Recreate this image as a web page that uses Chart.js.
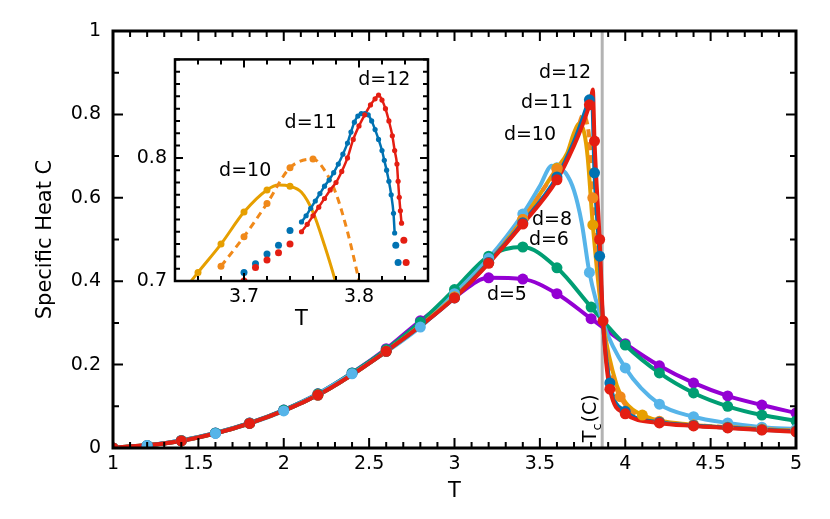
<!DOCTYPE html>
<html>
<head>
<meta charset="utf-8">
<script src="https://cdn.jsdelivr.net/npm/chart.js@4.4.0/dist/chart.umd.min.js"></script>
<style>
  html, body { margin: 0; padding: 0; background: #fff; }
  #wrap { position: relative; width: 830px; height: 519px; }
  #main { position: absolute; left: 0; top: 0; }
  #inset { position: absolute; left: 120px; top: 40px; }
</style>
</head>
<body>
<div id="wrap">
  <canvas id="main" width="830" height="519"></canvas>
  <canvas id="inset" width="320" height="300"></canvas>
</div>
<script>
// ---------- main plot: markers (T, C) per system size ----------
const d5T = [1.0, 1.2, 1.4, 1.6, 1.8, 2.0, 2.2, 2.4, 2.6, 2.8, 3.0, 3.2, 3.4, 3.6, 3.8, 4.0, 4.2, 4.4, 4.6, 4.8, 5.0];
const d5C = [0.000, 0.006, 0.018, 0.036, 0.060, 0.091, 0.130, 0.180, 0.238, 0.305, 0.362, 0.408, 0.405, 0.370, 0.310, 0.250, 0.197, 0.156, 0.125, 0.103, 0.084];

const d6T = [1.0, 1.2, 1.4, 1.6, 1.8, 2.0, 2.2, 2.4, 2.6, 2.8, 3.0, 3.2, 3.4, 3.6, 3.8, 4.0, 4.2, 4.4, 4.6, 4.8, 5.0];
const d6C = [0.000, 0.006, 0.018, 0.036, 0.060, 0.091, 0.130, 0.180, 0.236, 0.302, 0.380, 0.460, 0.482, 0.432, 0.338, 0.247, 0.180, 0.132, 0.100, 0.079, 0.065];

const d8T = [1.2, 1.6, 2.0, 2.4, 2.8, 3.0, 3.2, 3.4, 3.6, 3.79, 4.0, 4.2, 4.4, 4.6, 4.8, 5.0];
const d8C = [0.006, 0.035, 0.089, 0.178, 0.290, 0.370, 0.455, 0.561, 0.672, 0.421, 0.192, 0.105, 0.075, 0.060, 0.050, 0.045];
const d8KnotT = [1.0, 3.5, 3.57, 3.65, 3.7, 3.745, 3.87];
const d8KnotC = [0.000, 0.628, 0.677, 0.660, 0.617, 0.540, 0.300];

const d10T = [1.0, 1.4, 1.8, 2.2, 2.6, 3.0, 3.2, 3.4, 3.6, 3.81, 4.1, 4.4, 4.6, 4.8, 5.0];
const d10C = [0.000, 0.017, 0.059, 0.127, 0.232, 0.362, 0.445, 0.548, 0.671, 0.535, 0.079, 0.055, 0.050, 0.045, 0.041];
const d10KnotT = [3.66, 3.70, 3.73, 3.76, 3.78, 3.87, 3.95, 4.0];
const d10KnotC = [0.707, 0.756, 0.778, 0.755, 0.697, 0.300, 0.150, 0.110];

const d10dT = [1.0, 1.4, 1.8, 2.2, 2.6, 3.0, 3.2, 3.4, 3.6, 3.81, 3.97, 4.2, 4.4, 4.6, 4.8, 5.0];
const d10dC = [0.000, 0.017, 0.059, 0.127, 0.232, 0.362, 0.445, 0.548, 0.668, 0.600, 0.123, 0.064, 0.055, 0.050, 0.045, 0.041];
const d10dKnotT = [3.68, 3.72, 3.755, 3.78, 3.79, 3.87];
const d10dKnotC = [0.712, 0.763, 0.800, 0.771, 0.740, 0.300];

const d11T = [1.0, 1.4, 1.8, 2.2, 2.6, 3.0, 3.2, 3.4, 3.6, 3.79, 3.82, 3.85, 3.91, 4.0, 4.2, 4.4, 4.6, 4.8, 5.0];
const d11C = [0.000, 0.017, 0.059, 0.127, 0.232, 0.360, 0.445, 0.540, 0.650, 0.835, 0.660, 0.460, 0.156, 0.088, 0.062, 0.054, 0.049, 0.044, 0.040];
const d11KnotT = [3.70, 3.75, 3.805, 3.87];
const d11KnotC = [0.735, 0.790, 0.845, 0.300];

const d12T = [1.0, 1.4, 1.8, 2.2, 2.6, 3.0, 3.2, 3.4, 3.6, 3.79, 3.82, 3.85, 3.87, 3.91, 4.0, 4.2, 4.4, 4.6, 4.8, 5.0];
const d12C = [0.000, 0.017, 0.059, 0.127, 0.232, 0.360, 0.443, 0.537, 0.643, 0.823, 0.736, 0.500, 0.305, 0.141, 0.082, 0.060, 0.053, 0.048, 0.043, 0.039];
const d12KnotT = [3.70, 3.75, 3.80, 3.81];
const d12KnotC = [0.725, 0.775, 0.840, 0.860];

const tcValue = 3.865;
const mainXTicks = [1, 1.5, 2, 2.5, 3, 3.5, 4, 4.5, 5];
const mainYTicks = [0, 0.2, 0.4, 0.6, 0.8, 1];
const mainLabelText = ['d=12', 'd=11', 'd=10', 'd=8', 'd=6', 'd=5'];
const mainLabelT = [3.647, 3.542, 3.442, 3.571, 3.553, 3.307];
const mainLabelC = [0.899, 0.827, 0.751, 0.547, 0.499, 0.367];

// ---------- inset: zoom on the peak ----------
const i10T = [3.66, 3.68, 3.70, 3.72, 3.74];
const i10C = [0.707, 0.730, 0.756, 0.774, 0.777];
const i10KnotT = [3.64, 3.73, 3.75, 3.76, 3.77, 3.78, 3.79];
const i10KnotC = [0.683, 0.778, 0.772, 0.756, 0.729, 0.698, 0.660];

const i10dT = [3.68, 3.70, 3.72, 3.74, 3.76];
const i10dC = [0.712, 0.736, 0.763, 0.792, 0.799];
const i10dKnotT = [3.77, 3.78, 3.79, 3.80, 3.81];
const i10dKnotC = [0.790, 0.771, 0.740, 0.700, 0.655];

const i11PtsT = [3.70, 3.71, 3.72, 3.73, 3.74, 3.832, 3.834];
const i11PtsC = [0.707, 0.714, 0.722, 0.729, 0.741, 0.729, 0.715];
const i11LineT = [3.750, 3.754, 3.758, 3.762, 3.766, 3.770, 3.774, 3.778, 3.782, 3.786, 3.790, 3.793, 3.796, 3.799,
                  3.802, 3.805, 3.808, 3.811, 3.814, 3.817, 3.820, 3.822, 3.824, 3.826, 3.828, 3.830, 3.831];
const i11LineC = [0.748, 0.753, 0.759, 0.765, 0.771, 0.777, 0.782, 0.788, 0.795, 0.803, 0.812, 0.821, 0.829, 0.834,
                  0.836, 0.836, 0.835, 0.830, 0.823, 0.815, 0.806, 0.798, 0.790, 0.781, 0.770, 0.755, 0.739];

const i12PtsT = [3.70, 3.71, 3.72, 3.73, 3.74, 3.839, 3.841];
const i12PtsC = [0.700, 0.711, 0.717, 0.723, 0.730, 0.733, 0.715];
const i12LineT = [3.750, 3.755, 3.760, 3.765, 3.770, 3.775, 3.780, 3.785, 3.790, 3.795, 3.800, 3.805, 3.810, 3.814,
                  3.817, 3.820, 3.823, 3.826, 3.829, 3.831, 3.833, 3.834, 3.835, 3.836, 3.837];
const i12LineC = [0.740, 0.746, 0.753, 0.760, 0.767, 0.774, 0.780, 0.789, 0.800, 0.815, 0.826, 0.835, 0.843, 0.848,
                  0.851, 0.847, 0.840, 0.830, 0.818, 0.806, 0.795, 0.781, 0.768, 0.757, 0.747];

const insetXTicks = [3.7, 3.8];
const insetYTicks = [0.7, 0.8];
const insetLabelText = ['d=10', 'd=11', 'd=12'];
const insetLabelT = [3.701, 3.758, 3.822];
const insetLabelC = [0.789, 0.828, 0.863];

// ---------- colours ----------
const PURPLE = '#9400d3', GREEN = '#009e73', SKY = '#56b4e9', GOLD = '#e69f00',
      ORANGE = '#f0891a', BLUE = '#0072b2', RED = '#e41e12';

const FONT = { family: 'DejaVu Sans', size: 19 };
const TITLE_FONT = { family: 'DejaVu Sans', size: 21 };

function pts(T, C) { return T.map((t, i) => ({ x: t, y: C[i] })); }
function curve(T, C, KT, KC) {
    return pts(T.concat(KT || []), C.concat(KC || [])).sort((a, b) => a.x - b.x);
}
function lineSet(data, color, width, dash, order) {
    return { data, borderColor: color, borderWidth: width, borderDash: dash || [],
             pointRadius: 0, cubicInterpolationMode: 'monotone', fill: false, order };
}
function markSet(data, color, r, order) {
    return { data, showLine: false, pointRadius: r, pointBackgroundColor: color,
             pointBorderColor: color, pointBorderWidth: 0, order };
}
const fmt = v => String(+v.toFixed(2));

// frame with inward ticks on all four sides, curve labels, Tc marker
const framePlugin = {
    id: 'frame',
    beforeDatasetsDraw(chart, args, o) {
        if (o.tc == null) return;
        const { ctx, chartArea: a, scales: { x } } = chart;
        const px = x.getPixelForValue(o.tc);
        ctx.save();
        ctx.strokeStyle = '#b3b3b3';
        ctx.lineWidth = 3;
        ctx.beginPath(); ctx.moveTo(px, a.top); ctx.lineTo(px, a.bottom); ctx.stroke();
        ctx.restore();
    },
    afterDraw(chart, args, o) {
        const { ctx, chartArea: a, scales: { x, y } } = chart;
        ctx.save();
        ctx.strokeStyle = '#000';
        ctx.lineWidth = o.tickWidth;
        ctx.beginPath();
        const nx = Math.round((x.max - x.min) / o.xMinor);
        for (let i = 0; i <= nx; i++) {
            const v = x.min + i * o.xMinor;
            const major = o.xMajor.some(m => Math.abs(m - v) < 1e-6);
            const L = major ? o.major : o.minor;
            const px = x.getPixelForValue(v);
            ctx.moveTo(px, a.bottom); ctx.lineTo(px, a.bottom - L);
            ctx.moveTo(px, a.top);    ctx.lineTo(px, a.top + L);
        }
        const ny = Math.round((y.max - y.min) / o.yMinor);
        for (let i = 0; i <= ny; i++) {
            const v = y.min + i * o.yMinor;
            const major = o.yMajor.some(m => Math.abs(m - v) < 1e-6);
            const L = major ? o.major : o.minor;
            const py = y.getPixelForValue(v);
            ctx.moveTo(a.left, py);  ctx.lineTo(a.left + L, py);
            ctx.moveTo(a.right, py); ctx.lineTo(a.right - L, py);
        }
        ctx.stroke();
        ctx.lineWidth = o.frameWidth;
        ctx.strokeRect(a.left, a.top, a.right - a.left, a.bottom - a.top);

        // curve labels
        ctx.fillStyle = '#000';
        ctx.font = `${o.labelSize}px "DejaVu Sans"`;
        ctx.textAlign = 'center';
        ctx.textBaseline = 'middle';
        o.labelText.forEach((t, i) => {
            ctx.fillText(t, x.getPixelForValue(o.labelT[i]), y.getPixelForValue(o.labelC[i]));
        });

        // T_c(C), rotated
        if (o.tcLabel) {
            ctx.translate(x.getPixelForValue(o.tcLabel.T), y.getPixelForValue(o.tcLabel.C));
            ctx.rotate(-Math.PI / 2);
            ctx.textAlign = 'left';
            ctx.textBaseline = 'alphabetic';
            ctx.font = `${o.labelSize}px "DejaVu Sans"`;
            ctx.fillText('T', 0, 0);
            let w = ctx.measureText('T').width;
            ctx.font = `${Math.round(o.labelSize * 0.7)}px "DejaVu Sans"`;
            ctx.fillText('c', w, 5);
            w += ctx.measureText('c').width + 1;
            ctx.font = `${o.labelSize}px "DejaVu Sans"`;
            ctx.fillText('(C)', w, 0);
        }
        ctx.restore();
    }
};

// ---------- main chart ----------
new Chart(document.getElementById('main'), {
    type: 'line',
    data: {
        datasets: [
            markSet(pts(d12T, d12C), RED, 5.5, 0),
            markSet(pts(d11T, d11C), BLUE, 5.5, 1),
            markSet(pts(d10dT, d10dC), ORANGE, 5.5, 2),
            markSet(pts(d10T, d10C), GOLD, 5.5, 3),
            markSet(pts(d8T, d8C), SKY, 5.5, 4),
            markSet(pts(d6T, d6C), GREEN, 5.5, 5),
            markSet(pts(d5T, d5C), PURPLE, 5.5, 6),
            lineSet(curve(d12T, d12C, d12KnotT, d12KnotC), RED, 4, null, 10),
            lineSet(curve(d11T, d11C, d11KnotT, d11KnotC), BLUE, 4, null, 11),
            lineSet(curve(d10dT, d10dC, d10dKnotT, d10dKnotC), ORANGE, 4, [8, 5], 12),
            lineSet(curve(d10T, d10C, d10KnotT, d10KnotC), GOLD, 4, null, 13),
            lineSet(curve(d8T, d8C, d8KnotT, d8KnotC), SKY, 4, null, 14),
            lineSet(curve(d6T, d6C), GREEN, 4, null, 15),
            lineSet(curve(d5T, d5C), PURPLE, 4, null, 16)
        ]
    },
    options: {
        responsive: false,
        animation: false,
        layout: { padding: { top: 31, right: 34, left: 0, bottom: 0 } },
        plugins: {
            legend: { display: false },
            tooltip: { enabled: false },
            frame: {
                tc: tcValue,
                xMinor: 0.1, yMinor: 0.1, xMajor: mainXTicks, yMajor: mainYTicks,
                major: 10, minor: 6, tickWidth: 2, frameWidth: 3,
                labelSize: 19, labelText: mainLabelText, labelT: mainLabelT, labelC: mainLabelC,
                tcLabel: { T: 3.829, C: 0.014 }
            }
        },
        scales: {
            x: {
                type: 'linear', min: 1, max: 5,
                grid: { display: false, drawTicks: false },
                border: { display: false },
                afterBuildTicks: s => { s.ticks = mainXTicks.map(v => ({ value: v })); },
                afterFit: s => { s.height = 519 - 448; },
                ticks: { font: FONT, color: '#000', padding: 5, maxRotation: 0, autoSkip: false, callback: fmt },
                title: { display: true, text: 'T', font: TITLE_FONT, color: '#000', padding: { top: 0, bottom: 15 } }
            },
            y: {
                type: 'linear', min: 0, max: 1,
                grid: { display: false, drawTicks: false },
                border: { display: false },
                afterBuildTicks: s => { s.ticks = mainYTicks.map(v => ({ value: v })); },
                afterFit: s => { s.width = 113; },
                ticks: { font: FONT, color: '#000', padding: 12, autoSkip: false, callback: fmt },
                title: { display: true, text: 'Specific Heat C', font: TITLE_FONT, color: '#000', padding: { top: 33, bottom: 0 } }
            }
        }
    },
    plugins: [framePlugin]
});

// ---------- inset chart ----------
new Chart(document.getElementById('inset'), {
    type: 'line',
    data: {
        datasets: [
            markSet(pts(i12PtsT, i12PtsC), RED, 3.5, 0),
            markSet(pts(i12LineT, i12LineC), RED, 2.6, 1),
            markSet(pts(i11PtsT, i11PtsC), BLUE, 3.5, 2),
            markSet(pts(i11LineT, i11LineC), BLUE, 2.6, 3),
            markSet(pts(i10dT, i10dC), ORANGE, 3.5, 4),
            markSet(pts(i10T, i10C), GOLD, 3.5, 5),
            lineSet(pts(i12LineT, i12LineC), RED, 2.5, null, 10),
            lineSet(pts(i11LineT, i11LineC), BLUE, 2.5, null, 11),
            lineSet(curve(i10dT, i10dC, i10dKnotT, i10dKnotC), ORANGE, 3, [7, 5], 12),
            lineSet(curve(i10T, i10C, i10KnotT, i10KnotC), GOLD, 3, null, 13)
        ]
    },
    options: {
        responsive: false,
        animation: false,
        layout: { padding: { top: 16, right: 12, left: 0, bottom: 0 } },
        plugins: {
            legend: { display: false },
            tooltip: { enabled: false },
            frame: {
                xMinor: 0.02, yMinor: 0.01, xMajor: insetXTicks, yMajor: insetYTicks,
                major: 8, minor: 5, tickWidth: 2, frameWidth: 2.5,
                labelSize: 19, labelText: insetLabelText, labelT: insetLabelT, labelC: insetLabelC
            }
        },
        scales: {
            x: {
                type: 'linear', min: 3.64, max: 3.86,
                grid: { display: false, drawTicks: false },
                border: { display: false },
                afterBuildTicks: s => { s.ticks = insetXTicks.map(v => ({ value: v })); },
                afterFit: s => { s.height = 300 - 241; },
                ticks: { font: FONT, color: '#000', padding: 5, maxRotation: 0, autoSkip: false, callback: fmt },
                title: { display: true, text: 'T', font: TITLE_FONT, color: '#000', padding: { top: 0, bottom: 8 } }
            },
            y: {
                type: 'linear', min: 0.7, max: 0.88,
                grid: { display: false, drawTicks: false },
                border: { display: false },
                afterBuildTicks: s => { s.ticks = insetYTicks.map(v => ({ value: v })); },
                afterFit: s => { s.width = 55; },
                ticks: { font: FONT, color: '#000', padding: 8, autoSkip: false, callback: fmt }
            }
        }
    },
    plugins: [framePlugin]
});
</script>
</body>
</html>
